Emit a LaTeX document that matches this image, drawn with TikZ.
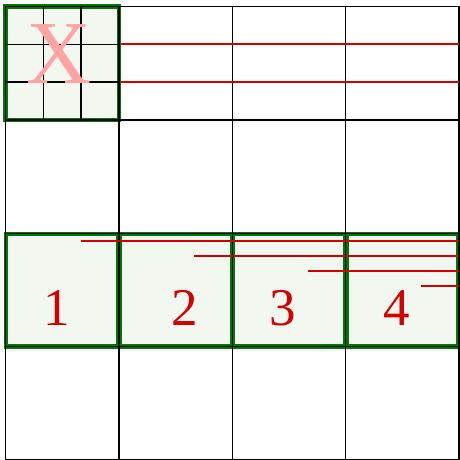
\documentclass[tikz,border=0pt]{standalone}
\usepackage{fontspec}
\setmainfont{Liberation Serif}
\definecolor{boxgreen}{RGB}{0,120,0}
\definecolor{boxfill}{RGB}{242,248,240}
\definecolor{linered}{RGB}{210,0,0}
\definecolor{xpink}{RGB}{255,163,163}
\begin{document}
\begin{tikzpicture}[x=1pt,y=-1pt,
  gridline/.style={black,line width=1.3pt},
  subline/.style={black,line width=1.3pt},
  greenbox/.style={draw=boxgreen,line width=4.6pt,fill=boxfill},
  thickred/.style={linered,line width=2.4pt},
  thinred/.style={linered,line width=1.1pt},
  digit/.style={text=linered,font=\fontsize{53}{53}\selectfont,inner sep=0pt,anchor=base},
  bigx/.style={text=xpink,font=\fontsize{90}{90}\selectfont,inner sep=0pt,anchor=base}]
\useasboundingbox (0,0) rectangle (459,460);
% X cell box
\node[greenbox,minimum width=113.4pt,minimum height=113.4pt,inner sep=0pt] (xcell) at (62.2,63.2) {};
% row of numbered boxes
\foreach \k in {0,...,3} {
  \node[greenbox,minimum width=112.4pt,minimum height=112.4pt,inner sep=0pt] (b\k) at (62.2+113.4*\k,290) {};
}
% main grid
\foreach \i in {0,...,4} {
  \draw[gridline] (5.5+113.4*\i,6) -- (5.5+113.4*\i,466);
  \draw[gridline] (5,6.5+113.4*\i) -- (465,6.5+113.4*\i);
}
\draw[gridline] (459,230) -- (459,350);
% sub-grid of the X cell
\foreach \k in {1,2} {
  \draw[subline] (5.5+37.8*\k,6.5) -- (5.5+37.8*\k,119.9);
  \draw[subline] (5.5,6.5+37.8*\k) -- (118.9,6.5+37.8*\k);
}
\node[bigx] (xlabel) at (59,83) {X};
\coordinate (r1) at (459,44.3);
\coordinate (r2) at (459,82.1);
\draw[thickred] (xcell.east |- r1) -- (r1);
\draw[thickred] (xcell.east |- r2) -- (r2);
\node[digit] (n1) at (56.7,325) {1};
\node[digit] (n2) at (184.7,325) {2};
\node[digit] (n3) at (282.8,325) {3};
\node[digit] (n4) at (396.3,325) {4};
\foreach \k/\yy in {0/241,1/256,2/271,3/286} {
  \coordinate (s\k) at (80.7+113.4*\k,\yy);
  \coordinate (e\k) at (459,\yy);
  \draw[thinred] (s\k) -- (e\k);
}
\end{tikzpicture}
\end{document}
